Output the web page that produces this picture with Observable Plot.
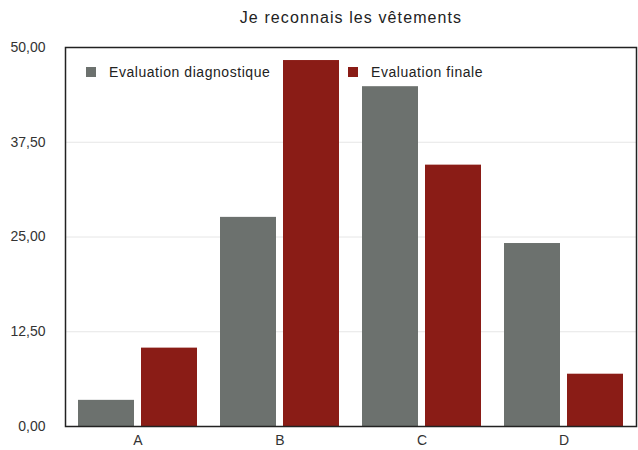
<!DOCTYPE html>
<html>
<head>
<meta charset="utf-8">
<script src="https://cdn.jsdelivr.net/npm/d3@7"></script>
<script src="https://cdn.jsdelivr.net/npm/@observablehq/plot@0.6"></script>
<style>
  html, body { margin: 0; padding: 0; background: #fff; }
  body { width: 638px; height: 450px; overflow: hidden; font-family: "Liberation Sans", Arial, sans-serif; }
  #wrap { position: relative; width: 638px; height: 450px; }
  #title { position: absolute; left: 100px; top: 0; width: 502px; height: 35px; line-height: 36px; text-align: center; font-size: 16px; letter-spacing: 1.1px; color: #222; }
  #chart { position: absolute; left: 0; top: 35px; }
  .leg { position: absolute; top: 64px; font-size: 14px; letter-spacing: 0.55px; color: #222; line-height: 17px; white-space: nowrap; }
  .sw { display: inline-block; width: 10px; height: 10px; margin-right: 13px; vertical-align: 0px; }
</style>
</head>
<body>
<div id="wrap">
  <div id="title">Je reconnais les vêtements</div>
  <div id="chart"></div>
  <div class="leg" id="leg1" style="left:86px"></div>
  <div class="leg" id="leg2" style="left:348px"></div>
</div>
<script>
const categories = ["A", "B", "C", "D"];
const seriesNames = ["Evaluation diagnostique", "Evaluation finale"];
const diagnostique = [3.45, 27.59, 44.83, 24.14];
const finale = [10.34, 48.28, 34.48, 6.90];
const yTicks = [0, 12.5, 25, 37.5, 50];
const gridValues = [12.5, 25, 37.5];
const colors = ["#6c716e", "#8a1c16"];

const diagData = categories.map((c, i) => ({cat: c, series: seriesNames[0], value: diagnostique[i]}));
const finData = categories.map((c, i) => ({cat: c, series: seriesNames[1], value: finale[i]}));

const fmt = d => d.toFixed(2).replace(".", ",");

const chart = Plot.plot({
  width: 638,
  height: 415,
  marginTop: 12,
  marginBottom: 24,
  marginLeft: 65,
  marginRight: 2,
  style: {fontFamily: "Liberation Sans, Arial, sans-serif", fontSize: "14px", color: "#333", background: "#fff"},
  x: {domain: categories, paddingInner: 0.159, paddingOuter: 0.08, tickSize: 0, tickPadding: 9, label: null},
  y: {domain: [0, 50], ticks: yTicks, tickFormat: fmt, tickSize: 0, tickPadding: 20, label: null},
  marks: [
    Plot.ruleY(gridValues, {stroke: "#e6e6e6", strokeWidth: 1}),
    Plot.barY(diagData, {x: "cat", y: "value", fill: colors[0], insetRight: 63}),
    Plot.barY(finData, {x: "cat", y: "value", fill: colors[1], insetLeft: 63}),
    Plot.frame({stroke: "#222", strokeWidth: 1.5})
  ]
});
document.getElementById("chart").appendChild(chart);

[["leg1", 0], ["leg2", 1]].forEach(([id, i]) => {
  const el = document.getElementById(id);
  el.innerHTML = `<span class="sw" style="background:${colors[i]}"></span>${seriesNames[i]}`;
});
</script>
</body>
</html>
